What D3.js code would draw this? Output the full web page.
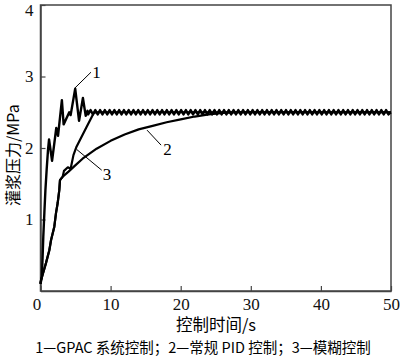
<!DOCTYPE html>
<html><head><meta charset="utf-8">
<script src="https://cdn.jsdelivr.net/npm/d3@7"></script>
<style>
html,body{margin:0;padding:0;background:#fff;}
svg{display:block;}
</style></head>
<body>
<svg id="chart" width="400" height="357"></svg>
<script>
// ---- data ----
const xTicks = [0, 10, 20, 30, 40, 50];
const yTicks = [1, 2, 3, 4];
const xLabel = "控制时间/s";
const yLabel = "灌浆压力/MPa";
const caption = "1—GPAC 系统控制；2—常规 PID 控制；3—模糊控制";

// series 1: GPAC control, start-up transient
const gpacStartT = [0, 0.2, 0.4, 0.55, 0.7, 0.88, 1.07, 1.22, 1.65, 2.25, 2.5, 3.05, 3.3, 4.1, 4.3, 4.95, 5.5, 6.05, 6.45, 6.7];
const gpacStartV = [0.1, 0.2, 0.76, 1.09, 1.41, 1.7, 1.97, 2.12, 1.82, 2.28, 2.17, 2.67, 2.33, 2.5, 2.46, 2.83, 2.38, 2.7, 2.45, 2.52];
// series 1: steady-state ripple
const gpacRippleT = [
 6.80, 7.14, 7.48, 7.82, 8.16, 8.50, 8.84, 9.18, 9.52, 9.86,
 10.20, 10.54, 10.88, 11.22, 11.56, 11.90, 12.24, 12.58, 12.92, 13.26,
 13.60, 13.94, 14.28, 14.62, 14.96, 15.30, 15.64, 15.98, 16.32, 16.66,
 17.00, 17.34, 17.68, 18.02, 18.36, 18.70, 19.04, 19.38, 19.72, 20.06,
 20.40, 20.74, 21.08, 21.42, 21.76, 22.10, 22.44, 22.78, 23.12, 23.46,
 23.80, 24.14, 24.48, 24.82, 25.16, 25.50, 25.84, 26.18, 26.52, 26.86,
 27.20, 27.54, 27.88, 28.22, 28.56, 28.90, 29.24, 29.58, 29.92, 30.26,
 30.60, 30.94, 31.28, 31.62, 31.96, 32.30, 32.64, 32.98, 33.32, 33.66,
 34.00, 34.34, 34.68, 35.02, 35.36, 35.70, 36.04, 36.38, 36.72, 37.06,
 37.40, 37.74, 38.08, 38.42, 38.76, 39.10, 39.44, 39.78, 40.12, 40.46,
 40.80, 41.14, 41.48, 41.82, 42.16, 42.50, 42.84, 43.18, 43.52, 43.86,
 44.20, 44.54, 44.88, 45.22, 45.56, 45.90, 46.24, 46.58, 46.92, 47.26,
 47.60, 47.94, 48.28, 48.62, 48.96, 49.30, 49.64, 49.98];
const gpacRippleV = [
 2.47, 2.53, 2.47, 2.53, 2.47, 2.53, 2.47, 2.53, 2.47, 2.53,
 2.47, 2.53, 2.47, 2.53, 2.47, 2.53, 2.47, 2.53, 2.47, 2.53,
 2.47, 2.53, 2.47, 2.53, 2.47, 2.53, 2.47, 2.53, 2.47, 2.53,
 2.47, 2.53, 2.47, 2.53, 2.47, 2.53, 2.47, 2.53, 2.47, 2.53,
 2.47, 2.53, 2.47, 2.53, 2.47, 2.53, 2.47, 2.53, 2.47, 2.53,
 2.47, 2.53, 2.47, 2.53, 2.47, 2.53, 2.47, 2.53, 2.47, 2.53,
 2.47, 2.53, 2.47, 2.53, 2.47, 2.53, 2.47, 2.53, 2.47, 2.53,
 2.47, 2.53, 2.47, 2.53, 2.47, 2.53, 2.47, 2.53, 2.47, 2.53,
 2.47, 2.53, 2.47, 2.53, 2.47, 2.53, 2.47, 2.53, 2.47, 2.53,
 2.47, 2.53, 2.47, 2.53, 2.47, 2.53, 2.47, 2.53, 2.47, 2.53,
 2.47, 2.53, 2.47, 2.53, 2.47, 2.53, 2.47, 2.53, 2.47, 2.53,
 2.47, 2.53, 2.47, 2.53, 2.47, 2.53, 2.47, 2.53, 2.47, 2.53,
 2.47, 2.53, 2.47, 2.53, 2.47, 2.53, 2.47, 2.50];

// series 2: conventional PID
const pidT = [0, 0.07, 0.78, 1.26, 1.5, 1.97, 2.21, 2.45, 2.68, 2.78, 3.17, 4, 5, 6, 7, 8, 10, 12, 14, 16, 18, 20, 22, 24, 26, 28, 50];
const pidV = [0.1, 0.15, 0.39, 0.57, 0.71, 0.9, 1.09, 1.23, 1.41, 1.55, 1.6, 1.67, 1.76, 1.85, 1.92, 1.99, 2.1, 2.19, 2.26, 2.31, 2.36, 2.4, 2.44, 2.47, 2.49, 2.5, 2.5];

// series 3: fuzzy control
const fuzzyT = [0, 0.07, 0.78, 1.26, 1.5, 1.97, 2.21, 2.45, 2.68, 2.78, 3.17, 3.35, 3.9, 4.3, 4.7, 5.1, 6.5, 7.6, 8, 50];
const fuzzyV = [0.1, 0.15, 0.39, 0.57, 0.71, 0.9, 1.09, 1.23, 1.41, 1.55, 1.6, 1.68, 1.73, 1.71, 1.9, 2.01, 2.28, 2.49, 2.5, 2.5];

// curve labels (data units): anchor on curve, leader end, text position
const curveLabels = ["1", "2", "3"];
const labelAnchorT = [4.92, 15.2, 5.16];
const labelAnchorV = [2.84, 2.25, 1.98];
const labelEndT = [7.2, 17.2, 8.73];
const labelEndV = [3.06, 2.04, 1.69];
const labelTextT = [8.0, 18.1, 9.5];
const labelTextV = [2.98, 1.9, 1.55];

// ---- drawing ----
const W = 400, H = 357;
const m = {left: 40.5, top: 5, right: 9, bottom: 66};
const svg = d3.select("#chart");
const x = d3.scaleLinear().domain([0, 50]).range([m.left, W - m.right]);
const y = d3.scaleLinear().domain([0, 4]).range([H - m.bottom, m.top]);

const SERIF = "'Liberation Serif', 'Times New Roman', serif";
const CJK = "'Noto Sans CJK SC', sans-serif";

// frame
svg.append("rect")
  .attr("x", x(0)).attr("y", y(4))
  .attr("width", x(50) - x(0)).attr("height", y(0) - y(4))
  .attr("fill", "none").attr("stroke", "#444").attr("stroke-width", 1.5);

// axes with inward ticks
const xAxis = svg.append("g").attr("transform", `translate(0,${y(0)})`)
  .call(d3.axisBottom(x).tickValues(xTicks).tickSizeInner(-5).tickSizeOuter(0).tickPadding(7).tickFormat(d3.format("d")));
const yAxis = svg.append("g").attr("transform", `translate(${x(0)},0)`)
  .call(d3.axisLeft(y).tickValues(yTicks).tickSizeInner(-5).tickSizeOuter(0).tickPadding(7).tickFormat(d3.format("d")));
[xAxis, yAxis].forEach(g => {
  g.attr("font-family", SERIF).attr("font-size", 17);
  g.select(".domain").attr("stroke", "#444").attr("stroke-width", 1.5);
  g.selectAll(".tick line").attr("stroke", "#444").attr("stroke-width", 1.2);
  g.selectAll(".tick text").style("font-family", SERIF).style("font-size", "17px").attr("fill", "#111");
});
xAxis.selectAll(".tick text").filter(d => d === 0).attr("dx", -4);
yAxis.selectAll(".tick text").filter(d => d === 4).attr("dy", "0.6em");

// lines
const line = d3.line().x(d => x(d[0])).y(d => y(d[1]));
const zip = (a, b) => a.map((t, i) => [t, b[i]]);

const gpac = zip(gpacStartT, gpacStartV).concat(zip(gpacRippleT, gpacRippleV));
const series = [zip(pidT, pidV), zip(fuzzyT, fuzzyV), gpac];
svg.append("g").selectAll("path").data(series).join("path")
  .attr("d", line)
  .attr("fill", "none").attr("stroke", "#000")
  .attr("stroke-width", (d, i) => i === 2 ? 2.4 : 2.2)
  .attr("stroke-linejoin", "round");

// curve labels
const lg = svg.append("g");
curveLabels.forEach((lab, i) => {
  lg.append("line")
    .attr("x1", x(labelAnchorT[i])).attr("y1", y(labelAnchorV[i]))
    .attr("x2", x(labelEndT[i])).attr("y2", y(labelEndV[i]))
    .attr("stroke", "#000").attr("stroke-width", 1);
  lg.append("text")
    .attr("x", x(labelTextT[i])).attr("y", y(labelTextV[i]))
    .attr("text-anchor", "middle")
    .style("font-family", SERIF).style("font-size", "17px").attr("fill", "#000")
    .text(lab);
});

// axis titles
svg.append("text")
  .attr("x", 216).attr("y", 331)
  .attr("text-anchor", "middle")
  .style("font-family", CJK).style("font-size", "16.5px").attr("fill", "#000")
  .text(xLabel);
svg.append("text")
  .attr("transform", `translate(19,${y(1.9)}) rotate(-90)`)
  .attr("text-anchor", "middle")
  .style("font-family", CJK).style("font-size", "16px").attr("fill", "#000")
  .text(yLabel);

// caption
svg.append("text")
  .attr("x", 203).attr("y", 353)
  .attr("text-anchor", "middle")
  .style("font-family", CJK).style("font-size", "14.5px").attr("fill", "#000")
  .text(caption);
</script>
</body></html>
